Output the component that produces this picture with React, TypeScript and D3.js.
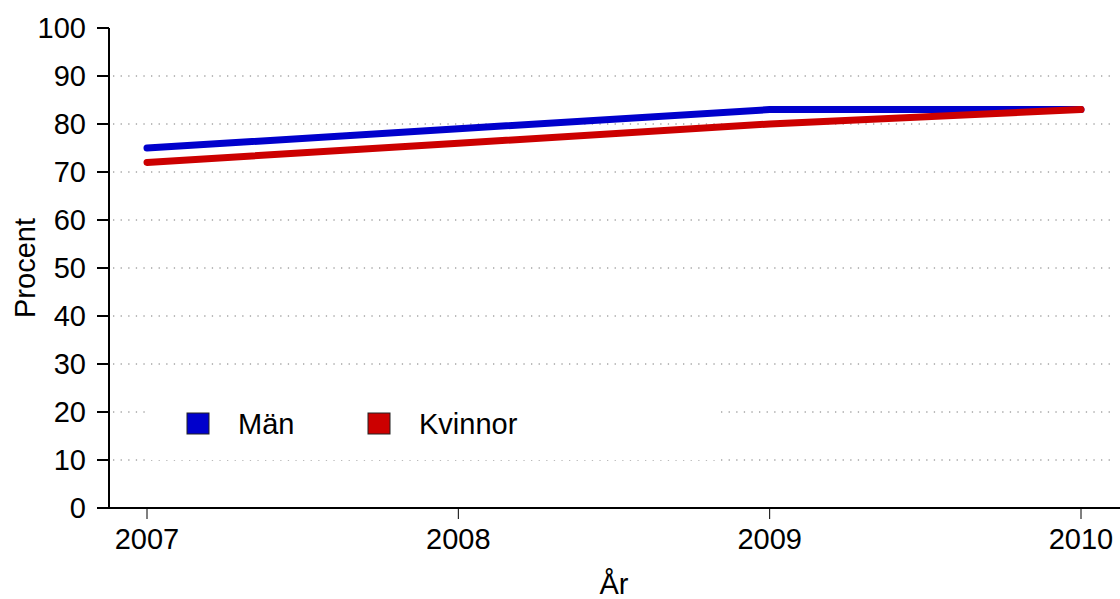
import React from 'react';
import * as d3 from 'd3';

const years = [2007, 2008, 2009, 2010];
const man = [75, 79, 83, 83];
const kvinnor = [72, 76, 80, 83];
const yTicks = [0, 10, 20, 30, 40, 50, 60, 70, 80, 90, 100];
const seriesNames = ['Män', 'Kvinnor'];
const seriesColors = ['#0000cc', '#cc0000'];

const W = 1120;
const H = 599;
const font = '"Liberation Sans", Arial, sans-serif';
const fs = 29;

export default function App() {
  const x = d3.scaleLinear().domain([2007, 2010]).range([147, 1081]);
  const y = d3.scaleLinear().domain([0, 100]).range([508, 28]);
  const axisX = 109;
  const axisY = y(0);

  const line = d3
    .line<number>()
    .x((_, i) => x(years[i]))
    .y((d) => y(d));

  const series = [man, kvinnor];

  return (
    <svg
      width={W}
      height={H}
      style={{ position: 'absolute', left: 0, top: 0, background: '#fff' }}
      fontFamily={font}
    >
      {/* grid */}
      {yTicks
        .filter((t) => t > 0 && t < 100)
        .map((t) => (
          <line
            key={'g' + t}
            x1={113}
            x2={1116}
            y1={y(t)}
            y2={y(t)}
            stroke="#777"
            strokeWidth={1}
            strokeDasharray="1.3,6.3"
          />
        ))}

      {/* legend background */}
      <rect x={147} y={392} width={571} height={68} fill="#fff" />
      {seriesNames.map((name, i) => (
        <g key={name} transform={`translate(${187 + i * 181},0)`}>
          <rect x={0} y={413} width={22} height={21} fill={seriesColors[i]} stroke="#222" strokeWidth={1} />
          <text x={51} y={434} fontSize={fs} fill="#000">
            {name}
          </text>
        </g>
      ))}

      {/* lines */}
      {series.map((s, i) => (
        <path
          key={i}
          d={line(s) || ''}
          fill="none"
          stroke={seriesColors[i]}
          strokeWidth={7}
          strokeLinecap="round"
          strokeLinejoin="round"
        />
      ))}

      {/* y axis */}
      <line x1={axisX} x2={axisX} y1={y(100)} y2={axisY} stroke="#000" strokeWidth={2} />
      {yTicks.map((t) => (
        <g key={'y' + t}>
          <line x1={97} x2={axisX} y1={y(t)} y2={y(t)} stroke="#000" strokeWidth={2} />
          <text x={86} y={y(t)} dy="0.36em" textAnchor="end" fontSize={fs} fill="#000">
            {t}
          </text>
        </g>
      ))}

      {/* x axis */}
      <line x1={97} x2={1120} y1={axisY} y2={axisY} stroke="#000" strokeWidth={2} />
      {years.map((yr) => (
        <g key={'x' + yr}>
          <line x1={x(yr)} x2={x(yr)} y1={axisY} y2={axisY + 11} stroke="#000" strokeWidth={1} />
          <text x={x(yr)} y={549} textAnchor="middle" fontSize={fs} fill="#000">
            {yr}
          </text>
        </g>
      ))}

      <text x={(x(2007) + x(2010)) / 2} y={594} textAnchor="middle" fontSize={fs} fill="#000">
        År
      </text>
      <text
        transform={`translate(35,${y(50)}) rotate(-90)`}
        textAnchor="middle"
        fontSize={fs}
        fill="#000"
      >
        Procent
      </text>
    </svg>
  );
}
